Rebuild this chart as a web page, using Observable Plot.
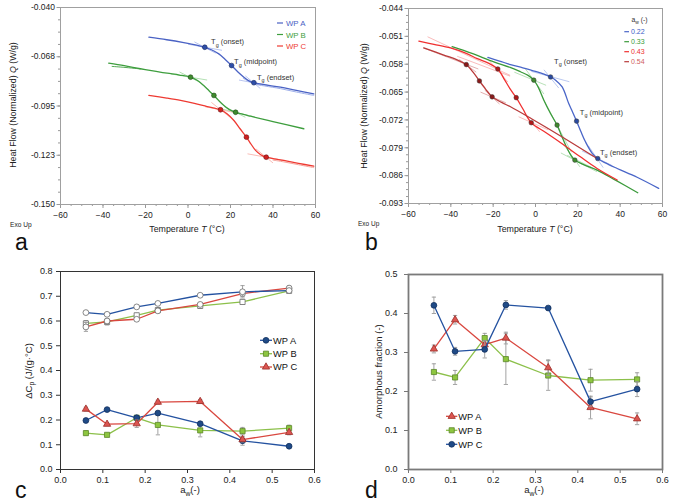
<!DOCTYPE html>
<html><head><meta charset="utf-8">
<script src="https://cdn.jsdelivr.net/npm/d3@7"></script>
<script src="https://cdn.jsdelivr.net/npm/@observablehq/plot@0.6"></script>
<style>
html,body{margin:0;padding:0;background:#fff;}
#root{position:relative;width:680px;height:504px;overflow:hidden;background:#fff;}
.panel{position:absolute;}
</style></head><body><div id="root"></div>
<script>
const FONT = '"Liberation Sans", Arial, Helvetica, sans-serif';

// ---------- Panel a: DSC traces (T in °C, Q in W/g) ----------
const aT_A = [-18.4,-10,-2,4,7.9,11,14.5,17.5,20.5,23.5,26.3,28.5,31,36,43.5,51,59.2];
const aQ_A = [-0.0566,-0.0580,-0.0596,-0.0610,-0.0622,-0.0636,-0.0659,-0.0690,-0.0724,-0.0760,-0.0789,-0.0808,-0.0820,-0.0831,-0.0845,-0.0863,-0.0882];
const aT_A2 = [26,31,36,43.5,51,59.2];
const aQ_A2 = [-0.0795,-0.0826,-0.0838,-0.0853,-0.0872,-0.0891];
const aT_B = [-37.3,-30,-22.4,-15,-9.8,-4,1.2,4.5,7.4,10,12.2,14.5,16.9,19.5,22.4,26,29.4,40,54.5];
const aQ_B = [-0.0711,-0.0725,-0.0742,-0.0757,-0.0767,-0.0777,-0.0789,-0.0808,-0.0836,-0.0866,-0.0891,-0.0920,-0.0947,-0.0970,-0.0985,-0.0997,-0.1007,-0.1037,-0.1077];
const aT_B2 = [-35.7,-30.2,-22.4];
const aQ_B2 = [-0.0729,-0.0734,-0.0743];
const aT_C = [-18.4,-10,-3.5,3,9,12.5,15.3,18.5,21.6,24.5,27.5,29.8,31.8,34.2,36.8,40.5,45.1,52,59.2];
const aQ_C = [-0.0891,-0.0906,-0.0919,-0.0935,-0.0953,-0.0962,-0.0971,-0.0995,-0.1031,-0.1077,-0.1124,-0.1165,-0.1198,-0.1222,-0.1236,-0.1245,-0.1254,-0.1270,-0.1286];
const aT_C2 = [40,45.1,52,59.2];
const aQ_C2 = [-0.1252,-0.1262,-0.1278,-0.1294];
const aTan_A = [[0,-0.0605,16,-0.0639],[3,-0.0592,13,-0.0655],[24,-0.0805,38,-0.0836],[27,-0.0782,34,-0.0852]];
const aTan_B = [[-8,-0.0771,9,-0.0805],[-4,-0.0760,6,-0.0820],[15,-0.0964,30,-0.1007],[17,-0.0953,27,-0.1013]];
const aTan_C = [[8,-0.0954,23,-0.0989],[11,-0.0930,20,-0.1015],[28,-0.1217,45,-0.1254],[32,-0.1190,40,-0.1268]];
const aTg_AT = [7.9,20.5,31.0], aTg_AQ = [-0.0622,-0.0724,-0.0820];
const aTg_BT = [1.2,12.2,22.4], aTg_BQ = [-0.0789,-0.0891,-0.0985];
const aTg_CT = [15.3,27.5,36.8], aTg_CQ = [-0.0971,-0.1124,-0.1236];
const aTgLabelT = [11.1,21.9,32.7], aTgLabelQ = [-0.0609,-0.0721,-0.0805];
const tgNames = ["(onset)","(midpoint)","(endset)"];
const aSeries = ["WP A","WP B","WP C"];
const aXTicks = [-60,-40,-20,0,20,40,60];
const aYTicks = [-0.040,-0.0675,-0.095,-0.1225,-0.150];
const aYLabels = ["-0.040","-0.068","-0.095","-0.123","-0.150"];

// ---------- Panel b: DSC traces at different aw ----------
const bSeries = ["0.22","0.33","0.43","0.54"];
const bT_22 = [-22.5,-17,-11.8,-6,0,4,7.1,9.5,12.6,15.7,17.5,19.4,21.5,23.6,26.8,29.4,33,38.6,48,58.2];
const bQ_22 = [-0.0563,-0.0572,-0.0581,-0.0589,-0.0598,-0.0605,-0.0612,-0.0620,-0.0637,-0.0679,-0.0700,-0.0723,-0.0750,-0.0775,-0.0804,-0.0817,-0.0828,-0.0842,-0.0864,-0.0892];
const bT_33 = [-39.4,-30,-19.7,-12,-7.1,-3.5,-0.8,1.5,3.9,7.1,10.2,12.3,14.2,16.4,18.6,23,29.1,38,48.3];
const bQ_33 = [-0.0536,-0.0553,-0.0574,-0.0588,-0.0599,-0.0608,-0.0620,-0.0640,-0.0670,-0.0704,-0.0733,-0.0760,-0.0783,-0.0806,-0.0821,-0.0833,-0.0846,-0.0872,-0.0903];
const bT_43 = [-55.1,-48,-40.2,-33,-27.5,-22,-17.8,-14.5,-12,-9.1,-6,-2,5,13.4,21,29.1,38.6];
const bQ_43 = [-0.0522,-0.0530,-0.0539,-0.0552,-0.0566,-0.0578,-0.0592,-0.0620,-0.0642,-0.0664,-0.0692,-0.0727,-0.0752,-0.0783,-0.0812,-0.0842,-0.0871];
const bT_54 = [-52.8,-43.3,-37,-32.7,-29.5,-26.5,-23.5,-20.5,-16,-11.8,-1.9,13,29.1];
const bQ_54 = [-0.0539,-0.0557,-0.0569,-0.0581,-0.0600,-0.0622,-0.0643,-0.0662,-0.0676,-0.0687,-0.0717,-0.0764,-0.0817];
const bTan_22 = [[-2,-0.0598,16,-0.0624],[4,-0.0594,11,-0.0640],[22,-0.0798,36,-0.0834],[25,-0.0785,32,-0.0840]];
const bTan_33 = [[-10,-0.0600,5,-0.0633],[-5,-0.0590,4,-0.0655],[4,-0.0671,17,-0.0801],[12,-0.0803,29,-0.0850],[15,-0.0809,37,-0.0867],[13,-0.0780,21,-0.0838]];
const bTan_43 = [[-51,-0.0511,-12,-0.0608],[-37,-0.0560,-12,-0.0610],[-22,-0.0570,-13,-0.0625],[-8,-0.0712,6,-0.0745],[-5,-0.0705,2,-0.0750]];
const bTan_54 = [[-53,-0.0539,-27,-0.0592],[-36,-0.0568,-28,-0.0600],[-26,-0.0650,-14,-0.0677],[-24,-0.0645,-17,-0.0680]];
const bTg_22T = [7.1,19.4,29.4], bTg_22Q = [-0.0612,-0.0723,-0.0817];
const bTg_33T = [-0.8,10.2,18.6], bTg_33Q = [-0.0620,-0.0733,-0.0821];
const bTg_43T = [-17.8,-9.1,-2.0], bTg_43Q = [-0.0592,-0.0664,-0.0727];
const bTg_54T = [-32.7,-26.5,-20.5], bTg_54Q = [-0.0581,-0.0622,-0.0662];
const bTgLabelT = [9.0,21.2,30.7], bTgLabelQ = [-0.0581,-0.0709,-0.0810];
const bXTicks = [-60,-40,-20,0,20,40,60];
const bYTicks = [-0.044,-0.051,-0.058,-0.065,-0.072,-0.079,-0.086,-0.093];

// ---------- Panel c: ΔCp vs aw ----------
const aw = [0.06,0.11,0.18,0.23,0.33,0.43,0.54];
const cpA_up = [0.634,0.627,0.657,0.671,0.704,0.718,0.723];
const cpB_up = [0.590,0.596,0.623,0.644,0.661,0.677,0.722];
const cpC_up = [0.576,0.600,0.607,0.641,0.667,0.711,0.733];
const cpA_upErr = [0,0,0,0,0,0.025,0];
const cpB_upErr = [0.012,0.012,0.008,0.008,0.010,0.008,0.010];
const cpC_upErr = [0.018,0.010,0.006,0.006,0.008,0.012,0.008];
const cpA_low = [0.198,0.242,0.209,0.228,0.185,0.116,0.094];
const cpB_low = [0.147,0.140,0.209,0.180,0.158,0.155,0.167];
const cpC_low = [0.244,0.183,0.185,0.272,0.275,0.121,0.150];
const cpA_lowErr = [0.006,0.006,0.008,0.008,0.008,0.018,0.005];
const cpB_lowErr = [0.008,0.006,0.010,0.040,0.026,0.015,0.012];
const cpC_lowErr = [0.008,0.006,0.015,0.008,0.008,0.010,0.010];
const cXTicks = [0,0.1,0.2,0.3,0.4,0.5,0.6];
const cYTicks = [0,0.1,0.2,0.3,0.4,0.5,0.6,0.7,0.8];

// ---------- Panel d: amorphous fraction vs aw ----------
const afA = [0.309,0.384,0.320,0.337,0.261,0.159,0.130];
const afB = [0.250,0.236,0.337,0.283,0.241,0.229,0.231];
const afC = [0.421,0.303,0.308,0.422,0.414,0.174,0.206];
const afAErr = [0.010,0.011,0.010,0.015,0.020,0.029,0.015];
const afBErr = [0.021,0.018,0.012,0.065,0.038,0.028,0.017];
const afCErr = [0.021,0.010,0.022,0.011,0.004,0.012,0.019];
const dXTicks = [0,0.1,0.2,0.3,0.4,0.5,0.6];
const dYTicks = [0,0.1,0.2,0.3,0.4,0.5];

// ---------- helpers ----------
const pts = (xs, ys, es) => xs.map((x, i) => ({x, y: ys[i], e: es ? es[i] : 0}));
const root = document.getElementById("root");
function place(svg, left, top) {
  const d = document.createElement("div");
  d.className = "panel"; d.style.left = left + "px"; d.style.top = top + "px";
  d.appendChild(svg); root.appendChild(d); return svg;
}
function rich(svg, x, y, parts, o = {}) {
  const size = o.size || 9;
  const t = d3.select(svg).append("text")
    .attr("transform", `translate(${x},${y})` + (o.rotate ? ` rotate(${o.rotate})` : ""))
    .attr("text-anchor", o.anchor || "start")
    .attr("font-family", FONT).attr("font-size", size)
    .attr("fill", o.fill || "#222");
  let shifted = 0;
  for (const p of parts) {
    const s = t.append("tspan").text(p.t);
    const want = p.sub ? size * 0.3 : 0;
    if (want !== shifted) { s.attr("dy", want - shifted); shifted = want; }
    if (p.sub) s.attr("font-size", size * 0.72);
    if (p.i) s.attr("font-style", "italic");
    if (p.fill) s.attr("fill", p.fill);
  }
  return t;
}
const style = (fs) => ({fontFamily: FONT, fontSize: fs, color: "#222", background: "transparent", overflow: "visible"});
const seg = (arr, stroke, w = 0.9) => Plot.link(arr, {x1: d => d[0], y1: d => d[1], x2: d => d[2], y2: d => d[3], stroke, strokeWidth: w, strokeOpacity: 0.8});

// ---------- Panel a ----------
const colA = {line: ["#4a62c4", "#3e9e3e", "#ee3a32"], light: ["#9fb0ea", "#95d495", "#f7a39b"], dot: ["#2e4ea8", "#3f8a2e", "#cf2020"]};
const pa = Plot.plot({
  width: 340, height: 252, marginLeft: 60, marginRight: 25, marginTop: 7, marginBottom: 48,
  style: style("8.5px"),
  x: {domain: [-60, 60], label: null},
  y: {domain: [-0.150, -0.040], label: null},
  marks: [
    Plot.axisX({ticks: d3.range(-60, 61, 5), tickSize: 2, tickFormat: () => "", stroke: "#999", label: null}),
    Plot.axisX({ticks: aXTicks, tickSize: 4, tickPadding: 3, stroke: "#999", label: null}),
    Plot.axisY({ticks: d3.range(0, 17).map(i => -0.040 - i * 0.006875), tickSize: 2, tickFormat: () => "", stroke: "#999", label: null}),
    Plot.axisY({ticks: aYTicks, tickSize: 3.5, tickPadding: 2, stroke: "#999", label: null, tickFormat: d => aYLabels[aYTicks.indexOf(d)]}),
    Plot.frame({stroke: "#a0a0a0"}),
    seg(aTan_A, colA.light[0]), seg(aTan_B, colA.light[1]), seg(aTan_C, colA.light[2]),
    Plot.line(pts(aT_A2, aQ_A2), {x: "x", y: "y", stroke: colA.light[0], strokeWidth: 1, curve: "catmull-rom"}),
    Plot.line(pts(aT_B2, aQ_B2), {x: "x", y: "y", stroke: colA.line[1], strokeWidth: 0.9, curve: "catmull-rom"}),
    Plot.line(pts(aT_C2, aQ_C2), {x: "x", y: "y", stroke: colA.light[2], strokeWidth: 1, curve: "catmull-rom"}),
    Plot.line(pts(aT_A, aQ_A), {x: "x", y: "y", stroke: colA.line[0], strokeWidth: 1.3, curve: "catmull-rom"}),
    Plot.line(pts(aT_B, aQ_B), {x: "x", y: "y", stroke: colA.line[1], strokeWidth: 1.3, curve: "catmull-rom"}),
    Plot.line(pts(aT_C, aQ_C), {x: "x", y: "y", stroke: colA.line[2], strokeWidth: 1.3, curve: "catmull-rom"}),
    Plot.dot(pts(aTg_AT, aTg_AQ), {x: "x", y: "y", r: 2.4, fill: colA.dot[0], stroke: "#1a2a60", strokeWidth: 0.6}),
    Plot.dot(pts(aTg_BT, aTg_BQ), {x: "x", y: "y", r: 2.4, fill: colA.dot[1], stroke: "#1f4a1a", strokeWidth: 0.6}),
    Plot.dot(pts(aTg_CT, aTg_CQ), {x: "x", y: "y", r: 2.4, fill: colA.dot[2], stroke: "#6a1010", strokeWidth: 0.6})
  ]
});
place(pa, 0, 0);
{
  const sx = pa.scale("x"), sy = pa.scale("y");
  tgNames.forEach((n, i) => rich(pa, sx.apply(aTgLabelT[i]), sy.apply(aTgLabelQ[i]), [{t: "T"}, {t: "g", sub: true}, {t: " " + n}], {size: 7.5, fill: "#333"}));
  const g = d3.select(pa);
  aSeries.forEach((s, i) => {
    const y = [23, 34.5, 46][i];
    g.append("line").attr("x1", 277).attr("x2", 283).attr("y1", y).attr("y2", y).attr("stroke", colA.line[i]).attr("stroke-width", 1.2);
    rich(pa, 286, y + 3, [{t: s}], {size: 7.8, fill: colA.line[i]});
  });
  rich(pa, 187, 232, [{t: "Temperature "}, {t: "T", i: true}, {t: " (°C)"}], {size: 8.8, anchor: "middle"});
  rich(pa, 16, 105, [{t: "Heat Flow (Normalized) "}, {t: "Q", i: true}, {t: " (W/g)"}], {size: 8.8, anchor: "middle", rotate: -90});
  rich(pa, 10, 226.5, [{t: "Exo Up"}], {size: 6.6});
  rich(pa, 15, 250, [{t: "a"}], {size: 23, fill: "#111"});
}

// ---------- Panel b ----------
const colB = {line: ["#4a66c8", "#3a9a3a", "#f03030", "#b83a3a"], light: ["#9fb3ea", "#9ad49a", "#f7a0a0", "#d89090"], dot: ["#2a4aa0", "#3f8a2e", "#b01818", "#8b1a1a"], text: ["#3a5ac8", "#3a9a3a", "#ee3030", "#d06060"]};
const bLines = [[bT_22, bQ_22], [bT_33, bQ_33], [bT_43, bQ_43], [bT_54, bQ_54]];
const bTans = [bTan_22, bTan_33, bTan_43, bTan_54];
const bTgs = [[bTg_22T, bTg_22Q], [bTg_33T, bTg_33Q], [bTg_43T, bTg_43Q], [bTg_54T, bTg_54Q]];
const pb = Plot.plot({
  width: 340, height: 252, marginLeft: 68, marginRight: 18, marginTop: 8, marginBottom: 49,
  style: style("8.5px"),
  x: {domain: [-60, 60], label: null},
  y: {domain: [-0.093, -0.044], label: null},
  marks: [
    Plot.axisX({ticks: d3.range(-60, 61, 5), tickSize: 2, tickFormat: () => "", stroke: "#999", label: null}),
    Plot.axisX({ticks: bXTicks, tickSize: 4, tickPadding: 3, stroke: "#999", label: null}),
    Plot.axisY({ticks: d3.range(0, 29).map(i => -0.044 - i * 0.00175), tickSize: 2, tickFormat: () => "", stroke: "#999", label: null}),
    Plot.axisY({ticks: bYTicks, tickSize: 3.5, tickPadding: 2, stroke: "#999", label: null, tickFormat: d => d.toFixed(3)}),
    Plot.frame({stroke: "#a0a0a0"}),
    ...bTans.map((t, i) => seg(t, colB.light[i])),
    ...bLines.map(([T, Q], i) => Plot.line(pts(T, Q), {x: "x", y: "y", stroke: colB.line[i], strokeWidth: 1.3, curve: "catmull-rom"})),
    ...bTgs.map(([T, Q], i) => Plot.dot(pts(T, Q), {x: "x", y: "y", r: 2.3, fill: colB.dot[i], stroke: "#333", strokeWidth: 0.5}))
  ]
});
place(pb, 340, 0);
{
  const sx = pb.scale("x"), sy = pb.scale("y");
  tgNames.forEach((n, i) => rich(pb, sx.apply(bTgLabelT[i]), sy.apply(bTgLabelQ[i]), [{t: "T"}, {t: "g", sub: true}, {t: " " + n}], {size: 7.5, fill: "#333"}));
  const g = d3.select(pb);
  rich(pb, 291.5, 21.5, [{t: "a"}, {t: "w", sub: true}, {t: " (-)"}], {size: 6.8, fill: "#333"});
  bSeries.forEach((s, i) => {
    const y = [31.7, 41.7, 51.7, 61.7][i];
    g.append("line").attr("x1", 284.3).attr("x2", 289).attr("y1", y).attr("y2", y).attr("stroke", colB.line[i]).attr("stroke-width", 1.2);
    rich(pb, 291, y + 2.5, [{t: s}], {size: 7, fill: colB.text[i]});
  });
  rich(pb, 195, 232, [{t: "Temperature "}, {t: "T", i: true}, {t: " (°C)"}], {size: 8.8, anchor: "middle"});
  rich(pb, 27, 106, [{t: "Heat Flow (Normalized) "}, {t: "Q", i: true}, {t: " (W/g)"}], {size: 8.8, anchor: "middle", rotate: -90});
  rich(pb, 18, 226, [{t: "Exo Up"}], {size: 6.5});
  rich(pb, 25, 250, [{t: "b"}], {size: 23, fill: "#111"});
}

// ---------- shared styles c/d ----------
const CA = {line: "#2452a0", fill: "#1f4a86", stroke: "#12305e", sym: "circle"};
const CB = {line: "#8cc04a", fill: "#8dc63f", stroke: "#5a8528", sym: "square"};
const CC = {line: "#d9473f", fill: "#dc5550", stroke: "#9a2f2a", sym: "triangle"};
const symR = {circle: 2.9, square: 2.9, triangle: 2.7};
function errMarks(data) {
  const d = data.filter(p => p.e > 0);
  return [
    Plot.ruleX(d, {x: "x", y1: p => p.y - p.e, y2: p => p.y + p.e, stroke: "#999", strokeWidth: 0.9}),
    Plot.link(d, {x1: p => p.x - 0.005, x2: p => p.x + 0.005, y1: p => p.y - p.e, y2: p => p.y - p.e, stroke: "#999", strokeWidth: 0.9}),
    Plot.link(d, {x1: p => p.x - 0.005, x2: p => p.x + 0.005, y1: p => p.y + p.e, y2: p => p.y + p.e, stroke: "#999", strokeWidth: 0.9})
  ];
}
function seriesMarks(data, c, open) {
  const sym = open ? (c.sym === "square" ? "square" : "circle") : c.sym;
  return [
    ...errMarks(data),
    Plot.line(data, {x: "x", y: "y", stroke: c.line, strokeWidth: 1.3}),
    Plot.dot(data, {x: "x", y: "y", symbol: sym, r: symR[sym],
      fill: open ? "#fff" : c.fill, stroke: open ? "#6a6a6a" : c.stroke, strokeWidth: 0.8})
  ];
}
function legend(svg, x0, x1, xm, xt, ys, entries) {
  const g = d3.select(svg);
  entries.forEach(([name, c], i) => {
    const y = ys[i];
    g.append("line").attr("x1", x0).attr("x2", x1).attr("y1", y).attr("y2", y).attr("stroke", c.line).attr("stroke-width", 1.3);
    const sym = d3.symbol(c.sym === "circle" ? d3.symbolCircle : c.sym === "square" ? d3.symbolSquare : d3.symbolTriangle, Math.PI * symR[c.sym] ** 2);
    g.append("path").attr("d", sym()).attr("transform", `translate(${xm},${y})`).attr("fill", c.fill).attr("stroke", c.stroke).attr("stroke-width", 0.8);
    rich(svg, xt, y + 3.4, [{t: name}], {size: 9.3, fill: "#111"});
  });
}

// ---------- Panel c ----------
const pc = Plot.plot({
  width: 340, height: 252, marginLeft: 60, marginRight: 26, marginTop: 19, marginBottom: 35,
  style: style("9px"),
  x: {domain: [0, 0.6], label: null},
  y: {domain: [0, 0.8], label: null},
  marks: [
    Plot.axisX({ticks: cXTicks, tickSize: 4, tickPadding: 3, stroke: "#333", label: null, tickFormat: d => d.toFixed(1)}),
    Plot.axisY({ticks: cYTicks, tickSize: 4, tickPadding: 4, stroke: "#333", label: null, tickFormat: d => d.toFixed(1)}),
    Plot.frame({stroke: "#333"}),
    ...seriesMarks(pts(aw, cpB_up, cpB_upErr), CB, true),
    ...seriesMarks(pts(aw, cpC_up, cpC_upErr), CC, true),
    ...seriesMarks(pts(aw, cpA_up, cpA_upErr), CA, true),
    ...seriesMarks(pts(aw, cpB_low, cpB_lowErr), CB, false),
    ...seriesMarks(pts(aw, cpA_low, cpA_lowErr), CA, false),
    ...seriesMarks(pts(aw, cpC_low, cpC_lowErr), CC, false)
  ]
});
place(pc, 0, 252);
legend(pc, 260, 272, 266, 273, [88.3, 101.7, 115], [["WP A", CA], ["WP B", CB], ["WP C", CC]]);
rich(pc, 190, 241, [{t: "a"}, {t: "w", sub: true}, {t: "(-)"}], {size: 9.5, anchor: "middle"});
rich(pc, 31.5, 119, [{t: "ΔC"}, {t: "p", sub: true}, {t: " (J/(g·°C)"}], {size: 9.5, anchor: "middle", rotate: -90});
rich(pc, 15, 246, [{t: "c"}], {size: 23, fill: "#111"});

// ---------- Panel d ----------
const pd = Plot.plot({
  width: 340, height: 252, marginLeft: 68, marginRight: 18, marginTop: 22, marginBottom: 35,
  style: style("9px"),
  x: {domain: [0, 0.6], label: null},
  y: {domain: [0, 0.5], label: null},
  marks: [
    Plot.axisX({ticks: dXTicks, tickSize: 4, tickPadding: 3, stroke: "#777", label: null, tickFormat: d => d.toFixed(1)}),
    Plot.axisY({ticks: dYTicks, tickSize: 4, tickPadding: 7, stroke: "#777", label: null, tickFormat: d => d.toFixed(1)}),
    Plot.frame({stroke: "#7a7a7a", strokeWidth: 1.8}),
    ...seriesMarks(pts(aw, afB, afBErr), CB, false),
    ...seriesMarks(pts(aw, afA, afAErr), CC, false),
    ...seriesMarks(pts(aw, afC, afCErr), CA, false)
  ]
});
place(pd, 340, 252);
legend(pd, 106, 117.3, 111.7, 118.3, [164.3, 178.3, 192.3], [["WP A", CC], ["WP B", CB], ["WP C", CA]]);
rich(pd, 194, 241, [{t: "a"}, {t: "w", sub: true}, {t: "(-)"}], {size: 9.5, anchor: "middle"});
rich(pd, 41.5, 119.5, [{t: "Amorphous fraction (-)"}], {size: 9.5, anchor: "middle", rotate: -90});
rich(pd, 25, 246, [{t: "d"}], {size: 23, fill: "#111"});
</script></body></html>
